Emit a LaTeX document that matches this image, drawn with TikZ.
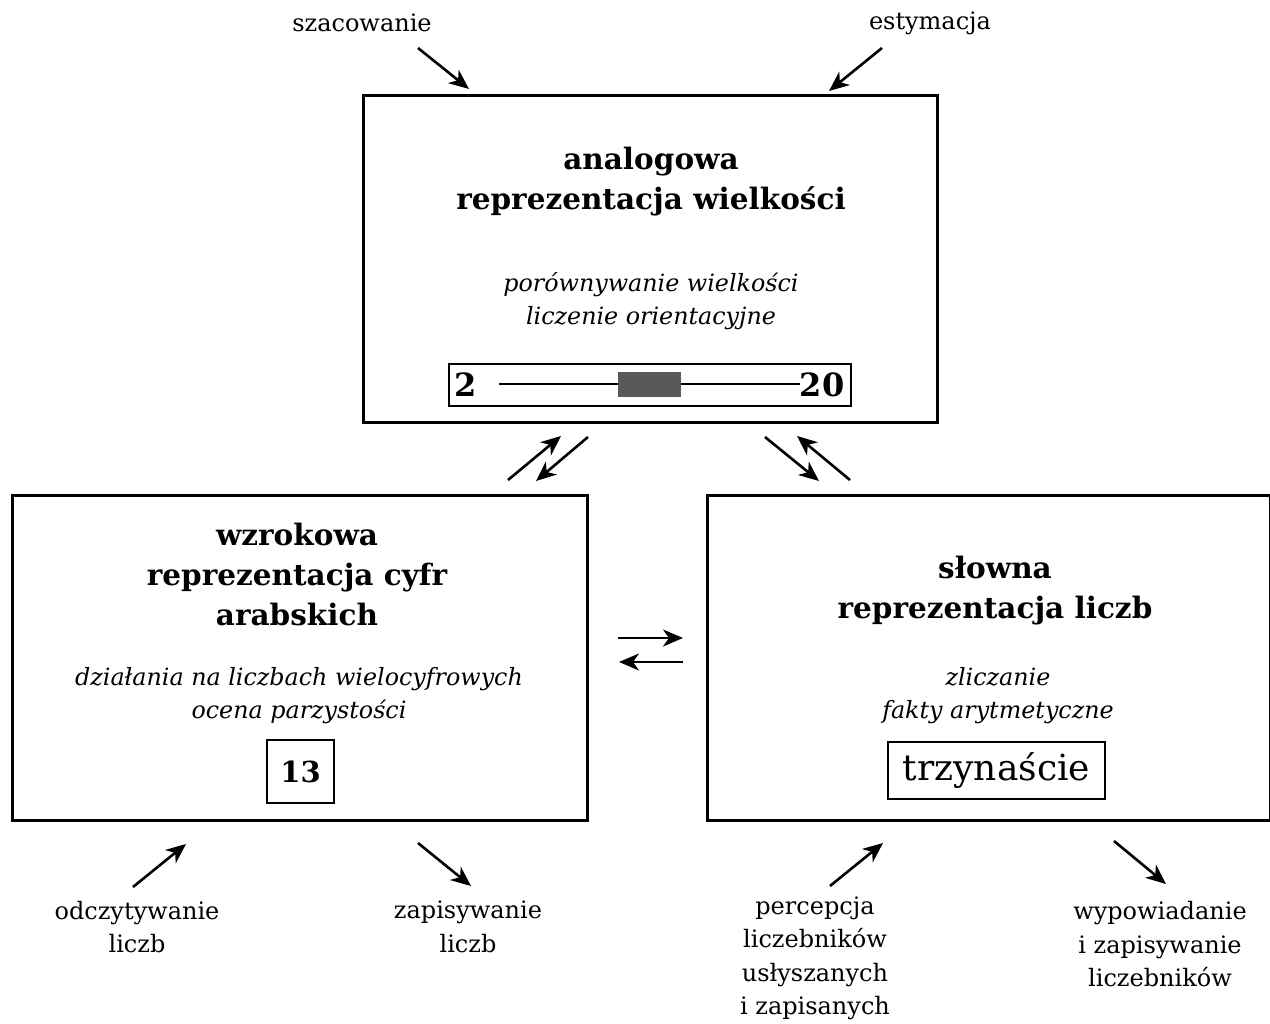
\documentclass[tikz,border=0pt]{standalone}
\usepackage{fontspec}
\setmainfont{DejaVu Serif}
\usetikzlibrary{arrows.meta}
\tikzset{
  box/.style={draw, line width=3pt},
  arr/.style={line width=2.6pt, -{Stealth[length=20pt,width=17pt,inset=6pt]}},
  title/.style={font=\fontsize{29.5}{40}\selectfont\bfseries, align=center},
  desc/.style={font=\fontsize{23.8}{33}\selectfont\itshape, align=center},
  lab/.style={font=\fontsize{24}{33.5}\selectfont, align=center},
}
\begin{document}
\begin{tikzpicture}[x=1pt,y=-1pt]
\useasboundingbox (0,0) rectangle (1270,1024);
% boxes
\node[box, minimum width=574pt, minimum height=327pt, inner sep=0pt] (top) at (650,259.5) {};
\node[box, minimum width=575pt, minimum height=325pt, inner sep=0pt] (left) at (299.5,657.5) {};
\node[box, minimum width=563pt, minimum height=325pt, inner sep=0pt] (right) at (988.5,657.5) {};
% top box content
\node[title] (t1) at (651,182) {analogowa\\reprezentacja wielkości};
\node[desc] (d1) at (651,301) {porównywanie wielkości\\liczenie orientacyjne};
\node[draw, line width=1.5pt, minimum width=402pt, minimum height=42pt, inner sep=0pt] (scale) at (650,385) {};
\node[font=\fontsize{32}{32}\selectfont\bfseries] (n2) at (466,385) {2};
\node[font=\fontsize{32}{32}\selectfont\bfseries] (n20) at (822,385) {20};
\draw[line width=1.5pt] (499,384) coordinate (sl) -- (800,384) coordinate (sr);
\node[fill=black!65, minimum width=63pt, minimum height=25pt, inner sep=0pt] (band) at (649.5,384.5) {};
% left box content
\node[title] (t2) at (297,575) {wzrokowa\\reprezentacja cyfr\\arabskich};
\node[desc] (d2) at (299,696) {działania na liczbach wielocyfrowych\\ocena parzystości};
\node[draw, line width=2pt, minimum width=67pt, minimum height=63pt, inner sep=0pt, font=\fontsize{29}{29}\selectfont\bfseries] (n13) at (300.5,771.5) {13};
% right box content
\node[title] (t3) at (995,591) {słowna\\reprezentacja liczb};
\node[desc] (d3) at (998,696) {zliczanie\\fakty arytmetyczne};
\node[draw, line width=2pt, minimum width=217pt, minimum height=57pt, inner sep=0pt, font=\fontsize{36}{36}\selectfont] (tr) at (996.5,770.5) {trzynaście};
% outside labels
\node[lab] (sz) at (362,23) {szacowanie};
\node[lab] (es) at (930,23) {estymacja};
\node[lab] (od) at (137,927) {odczytywanie\\liczb};
\node[lab] (za) at (468,927) {zapisywanie\\liczb};
\node[lab] (pe) at (815,958.5) {percepcja\\liczebników\\usłyszanych\\i zapisanych};
\node[lab] (wy) at (1160,944.5) {wypowiadanie\\i zapisywanie\\liczebników};
% arrow endpoints
\coordinate (a1s) at (418,48); \coordinate (a1e) at (469,89);
\coordinate (a2s) at (882,48); \coordinate (a2e) at (829,91);
\coordinate (b1s) at (508,480); \coordinate (b1e) at (561,436);
\coordinate (b2s) at (588,437); \coordinate (b2e) at (536,481);
\coordinate (c1s) at (765,437); \coordinate (c1e) at (819,481);
\coordinate (c2s) at (850,480); \coordinate (c2e) at (797,436);
\coordinate (h1s) at (618,638); \coordinate (h1e) at (683,638);
\coordinate (h2s) at (683,662); \coordinate (h2e) at (619,662);
\coordinate (e1s) at (133,887); \coordinate (e1e) at (186,844);
\coordinate (e2s) at (418,843); \coordinate (e2e) at (471,886);
\coordinate (e3s) at (830,886); \coordinate (e3e) at (883,843);
\coordinate (e4s) at (1114,841); \coordinate (e4e) at (1166,884);
\draw[arr] (a1s) -- (a1e);
\draw[arr] (a2s) -- (a2e);
\draw[arr] (b1s) -- (b1e);
\draw[arr] (b2s) -- (b2e);
\draw[arr] (c1s) -- (c1e);
\draw[arr] (c2s) -- (c2e);
\draw[arr] (h1s) -- (h1e);
\draw[arr] (h2s) -- (h2e);
\draw[arr] (e1s) -- (e1e);
\draw[arr] (e2s) -- (e2e);
\draw[arr] (e3s) -- (e3e);
\draw[arr] (e4s) -- (e4e);
\end{tikzpicture}
\end{document}
